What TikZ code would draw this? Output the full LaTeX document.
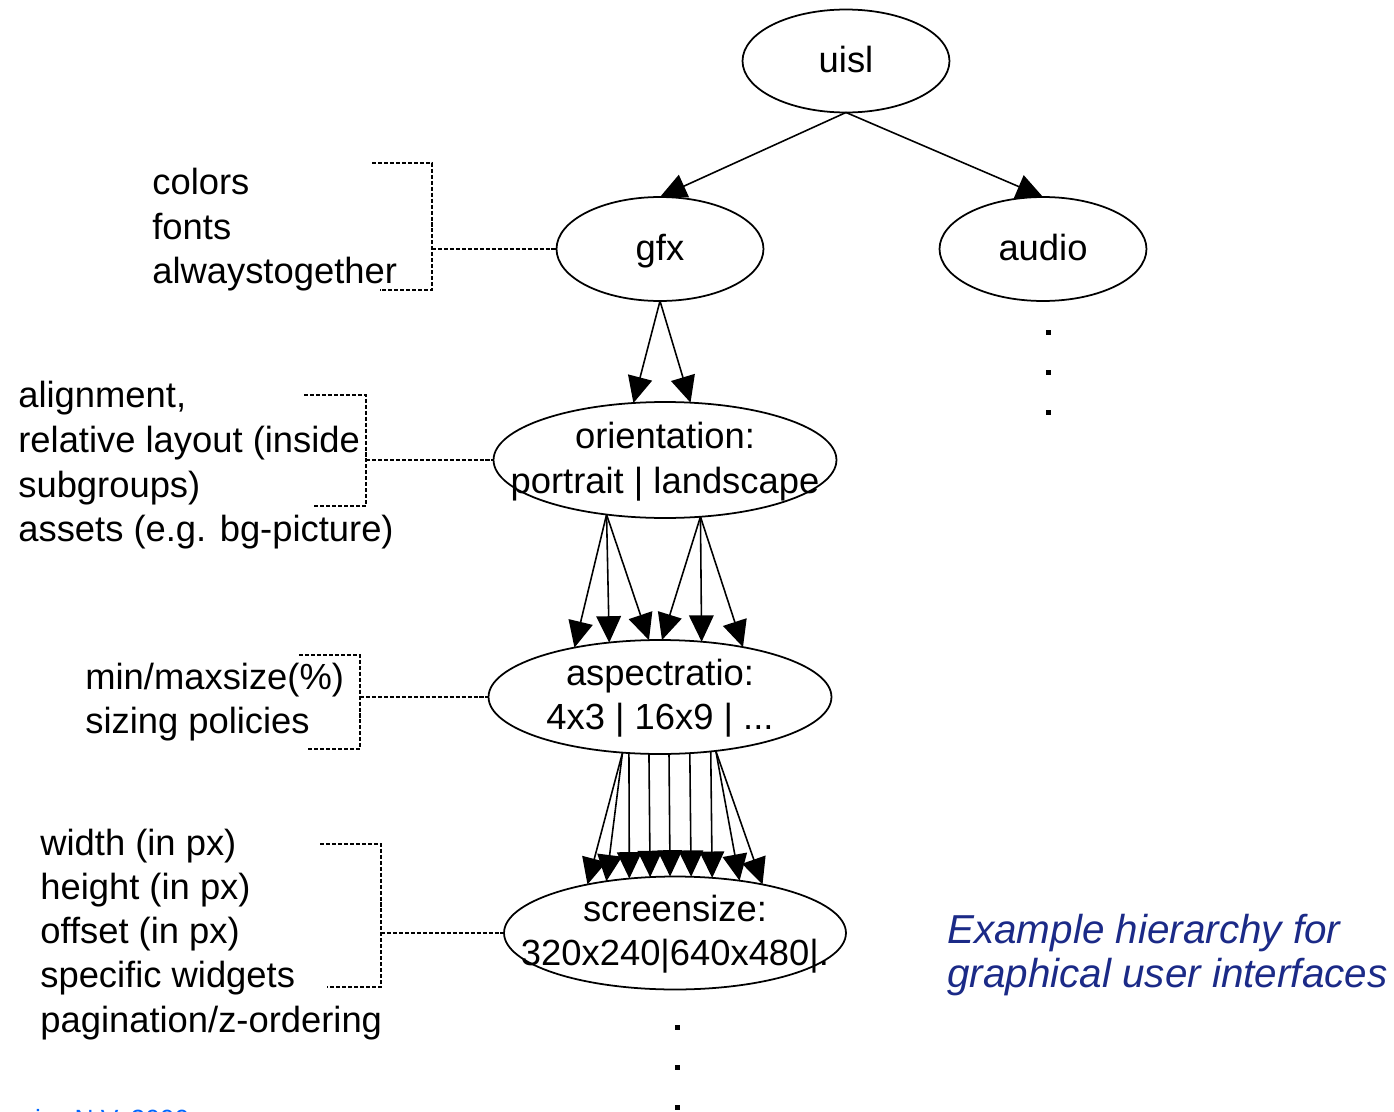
\documentclass[tikz,border=0pt]{standalone}
\usepackage{fontspec}
\setmainfont{Liberation Sans}
\usetikzlibrary{arrows.meta,shapes.geometric}

\definecolor{navy}{RGB}{27,42,135}
\definecolor{brightblue}{RGB}{0,102,255}

\tikzset{
  txt/.style={anchor=base west, inner sep=0pt, font=\fontsize{20.7}{25}\selectfont},
  ctxt/.style={anchor=base, inner sep=0pt, font=\fontsize{20.7}{25}\selectfont},
  ell/.style={ellipse, draw, line width=1pt, inner sep=0pt, outer sep=0pt},
  arr/.style={-{Triangle[length=15pt,width=14pt]}, line width=0.9pt},
  dashy/.style={line width=0.6pt, dash pattern=on 2.3pt off 1.1pt},
  sq/.style={fill, rectangle, minimum size=0.1cm, inner sep=0pt},
  note/.style={anchor=base west, inner sep=0pt, text=navy, font=\fontsize{23}{27}\selectfont\itshape}
}

\begin{document}
\begin{tikzpicture}[x=0.02cm, y=-0.02cm]
\useasboundingbox (0,0) rectangle (1394,1112);
\clip (0,0) rectangle (1394,1112);

% hierarchy levels
\node[ell, minimum width=4.14cm, minimum height=2.06cm] (uisl) at (846,61) {};
\node[ctxt] (uisl-t) at (846,72) {uisl};
\node[ell, minimum width=4.14cm, minimum height=2.08cm] (gfx) at (660,249) {};
\node[ctxt] (gfx-t) at (660,260) {gfx};
\node[ell, minimum width=4.14cm, minimum height=2.08cm] (audio) at (1043,249) {};
\node[ctxt] (audio-t) at (1043,260) {audio};
\node[ell, minimum width=6.86cm, minimum height=2.32cm] (orient) at (665,460) {};
\node[ctxt] (orient-t1) at (665,448) {orientation:};
\node[ctxt] (orient-t2) at (665,493) {portrait | landscape};
\node[ell, minimum width=6.86cm, minimum height=2.28cm] (aspect) at (660,697) {};
\node[ctxt] (aspect-t1) at (660,685) {aspectratio:};
\node[ctxt] (aspect-t2) at (660,729) {4x3 | 16x9 | ...};
\node[ell, minimum width=6.84cm, minimum height=2.26cm] (screen) at (675,933) {};
\node[ctxt] (screen-t1) at (675,921) {screensize:};
\node[ctxt] (screen-t2) at (675,965) {320x240|640x480|.};

% tree edges
\draw[arr] (uisl.south) -- (gfx.north);
\draw[arr] (uisl.south) -- (audio.north);
\draw[arr] (gfx.south) -- (orient.119.3);
\draw[arr] (gfx.south) -- (orient.66.5);
\foreach \a in {150.6,133.8,101.9} \draw[arr] (orient.223.8) -- (aspect.\a);
\foreach \a in {88,53.4,31.8} \draw[arr] (orient.302.4) -- (aspect.\a);
\draw[arr] (aspect.236.4) -- (screen.151.9);
\draw[arr] (aspect.236.4) -- (screen.143.6);
\draw[arr] (aspect.241.1) -- (screen.130.2);
\draw[arr] (aspect.259.1) -- (screen.114.96);
\draw[arr] (aspect.279.97) -- (screen.95.06);
\draw[arr] (aspect.298.9) -- (screen.74.1);
\draw[arr] (aspect.313.75) -- (screen.56.15);
\draw[arr] (aspect.316.7) -- (screen.39.8);
\draw[arr] (aspect.316.7) -- (screen.29.98);

% continuation dots
\foreach \y [count=\i] in {332,372,412} \node[sq] (da\i) at (1048,\y) {};
\foreach \y [count=\i] in {1027,1067,1107} \node[sq] (ds\i) at (677,\y) {};

% properties of gfx
\node[txt] (p1a) at (152,194) {colors};
\node[txt] (p1b) at (152,239) {fonts};
\node[txt] (p1c) at (152,283) {alwaystogether};
\draw[dashy] (372,163) -| (432,290) -- (380,290);
\draw[dashy] (432,249) -- (gfx.west);

% properties of orientation
\node[txt] (p2a) at (18,407) {alignment,};
\node[txt] (p2b) at (18,452) {relative layout (inside};
\node[txt] (p2c) at (18,497) {subgroups)};
\node[txt] (p2d) at (18,541) {assets (e.g. bg-picture)};
\draw[dashy] (304,395) -| (366,506) -- (313,506);
\draw[dashy] (366,460) -- (orient.west);

% properties of aspectratio
\node[txt] (p3a) at (85,689) {min/maxsize(\%)};
\node[txt] (p3b) at (85,733) {sizing policies};
\draw[dashy] (299,655) -| (360,749) -- (307,749);
\draw[dashy] (360,697) -- (aspect.west);

% properties of screensize
\node[txt] (p4a) at (40,855) {width (in px)};
\node[txt] (p4b) at (40,899) {height (in px)};
\node[txt] (p4c) at (40,943) {offset (in px)};
\node[txt] (p4d) at (40,987) {specific widgets};
\node[txt] (p4e) at (40,1032) {pagination/z-ordering};
\draw[dashy] (320,844) -| (381,987) -- (327,987);
\draw[dashy] (381,933) -- (screen.west);

% caption
\node[note] (cap1) at (947,943) {Example hierarchy for};
\node[note] (cap2) at (947,987) {graphical user interfaces};

% footer
\node[anchor=base west, inner sep=0pt, text=brightblue, font=\fontsize{15}{17}\selectfont] (foot) at (-62,1128) {Electronics N.V. 2000};
\end{tikzpicture}
\end{document}
